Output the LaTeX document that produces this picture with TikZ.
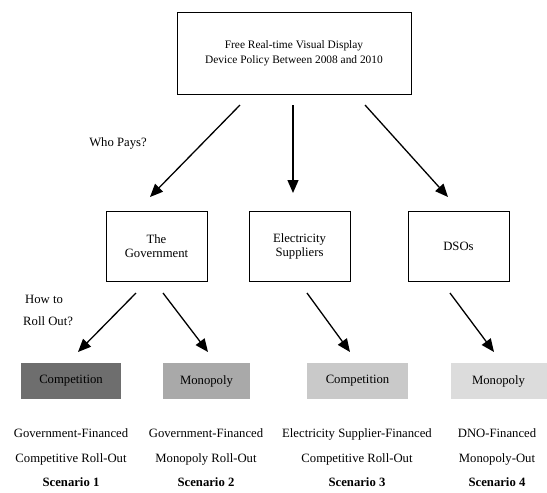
\documentclass[tikz,border=0pt]{standalone}
\usepackage{fontspec}
\setmainfont{Liberation Serif}
\usetikzlibrary{arrows.meta}
\definecolor{shadeA}{HTML}{6E6E6E}
\definecolor{shadeB}{HTML}{A9A9A9}
\definecolor{shadeC}{HTML}{C9C9C9}
\definecolor{shadeD}{HTML}{DCDCDC}
\begin{document}
\begin{tikzpicture}[x=1pt,y=-1pt,
  every node/.style={font=\fontsize{12.7}{14}\selectfont, text=black},
  box/.style={draw, line width=0.9pt, align=center, inner sep=0pt},
  tag/.style={inner sep=0pt, align=center},
  arr/.style={line width=1.3pt, -{Triangle[length=13pt,width=11pt]}},
  label/.style={inner sep=0pt, anchor=base},
  bold/.style={inner sep=0pt, anchor=base, font=\fontsize{12.7}{14}\selectfont\bfseries}]
\useasboundingbox (0,0) rectangle (547,493);

% top policy box
\node[box, minimum width=234pt, minimum height=82pt, font=\fontsize{11.4}{14}\selectfont] (top) at (294,53)
  {Free Real-time Visual Display\\[1pt]Device Policy Between 2008 and 2010};

% who pays
\node[box, minimum width=101pt, minimum height=70pt] (gov) at (156.5,246) {The\\Government};
\node[box, minimum width=101pt, minimum height=70pt] (sup) at (299.5,246) {Electricity\\Suppliers};
\node[box, minimum width=101pt, minimum height=70pt] (dso) at (458.5,246) {DSOs};

\node[tag] (who) at (118,143) {Who Pays?};
\node[tag, anchor=west] (how1) at (25,299) {How to};
\node[tag, anchor=west] (how2) at (23,321) {Roll Out?};

% roll-out options
\node[tag, fill=shadeA, minimum width=100pt, minimum height=36pt] (c1) at (71,381) {Competition};
\node[tag, fill=shadeB, minimum width=87pt, minimum height=36pt] (m2) at (206.5,381) {Monopoly};
\node[tag, fill=shadeC, minimum width=101pt, minimum height=36pt] (c3) at (357.5,381) {Competition};
\node[tag, fill=shadeD, minimum width=96pt, minimum height=36pt] (m4) at (498.5,381) {Monopoly};

% arrow end points
\coordinate (t1) at (240,105); \coordinate (h1) at (150,197);
\coordinate (t2) at (293,105); \coordinate (h2) at (293,193);
\coordinate (t3) at (365,105); \coordinate (h3) at (448,197);
\coordinate (g1) at (136,293); \coordinate (k1) at (78,352);
\coordinate (g2) at (163,293); \coordinate (k2) at (208,352);
\coordinate (s1) at (307,293); \coordinate (k3) at (350,352);
\coordinate (d1) at (450,293); \coordinate (k4) at (494,352);

\draw[arr] (t1) -- (h1);
\draw[arr] (t2) -- (h2);
\draw[arr] (t3) -- (h3);
\draw[arr] (g1) -- (k1);
\draw[arr] (g2) -- (k2);
\draw[arr] (s1) -- (k3);
\draw[arr] (d1) -- (k4);

% scenario captions
\node[label] (a1) at (71,437) {Government-Financed};
\node[label] (a2) at (71,462) {Competitive Roll-Out};
\node[bold]  (a3) at (71,486) {Scenario 1};
\node[label] (b1) at (206,437) {Government-Financed};
\node[label] (b2) at (206,462) {Monopoly Roll-Out};
\node[bold]  (b3) at (206,486) {Scenario 2};
\node[label] (e1) at (357,437) {Electricity Supplier-Financed};
\node[label] (e2) at (357,462) {Competitive Roll-Out};
\node[bold]  (e3) at (357,486) {Scenario 3};
\node[label] (f1) at (497,437) {DNO-Financed};
\node[label] (f2) at (497,462) {Monopoly-Out};
\node[bold]  (f3) at (497,486) {Scenario 4};
\end{tikzpicture}
\end{document}
